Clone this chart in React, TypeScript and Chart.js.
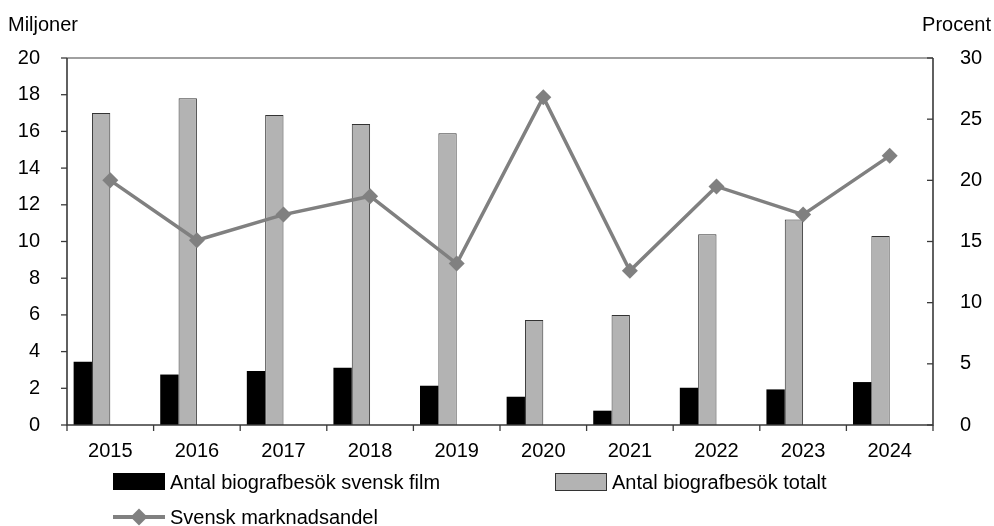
import React, { useEffect, useRef } from "react";
import { Chart, registerables } from "chart.js";

Chart.register(...registerables);

const years = ["2015", "2016", "2017", "2018", "2019", "2020", "2021", "2022", "2023", "2024"];
const svenskFilm = [3.45, 2.75, 2.94, 3.12, 2.14, 1.54, 0.78, 2.03, 1.94, 2.34];
const totalt = [17.0, 17.8, 16.9, 16.4, 15.9, 5.72, 6.0, 10.4, 11.2, 10.3];
const marknadsandel = [20.0, 15.1, 17.2, 18.7, 13.2, 26.8, 12.6, 19.5, 17.2, 22.0];
const emptySlot = years.map(() => null);

const FONT = "'Liberation Sans', Arial, sans-serif";
const W = 994;
const H = 526;
const PLOT_LEFT = 67;
const PLOT_RIGHT = 933;
const PLOT_TOP = 58;
const PLOT_BOTTOM = 425;

const framePlugin = {
  id: "frame",
  afterDraw(chart: any) {
    const { ctx, chartArea } = chart;
    const { left, right, top, bottom } = chartArea;
    const yL = chart.scales.y;
    const yR = chart.scales.y1;
    ctx.save();
    ctx.strokeStyle = "#808080";
    ctx.lineWidth = 1.5;
    ctx.beginPath();
    ctx.moveTo(left, top);
    ctx.lineTo(right, top);
    ctx.stroke();
    ctx.strokeStyle = "#3a3a3a";
    ctx.lineWidth = 1.6;
    ctx.beginPath();
    ctx.moveTo(left, top);
    ctx.lineTo(left, bottom);
    ctx.lineTo(right, bottom);
    ctx.lineTo(right, top);
    ctx.stroke();
    ctx.lineWidth = 1.3;
    yL.ticks.forEach((t: any) => {
      const py = yL.getPixelForValue(t.value);
      ctx.beginPath();
      ctx.moveTo(left - 6, py);
      ctx.lineTo(left, py);
      ctx.stroke();
    });
    yR.ticks.forEach((t: any) => {
      const py = yR.getPixelForValue(t.value);
      ctx.beginPath();
      ctx.moveTo(right - 6, py);
      ctx.lineTo(right, py);
      ctx.stroke();
    });
    const n = years.length;
    const step = (right - left) / n;
    for (let i = 0; i <= n; i++) {
      const px = left + i * step;
      ctx.beginPath();
      ctx.moveTo(px, bottom);
      ctx.lineTo(px, bottom + 6);
      ctx.stroke();
    }
    ctx.restore();
  },
};

export default function App() {
  const ref = useRef<HTMLCanvasElement | null>(null);

  useEffect(() => {
    document.body.style.margin = "0";
    const canvas = ref.current;
    if (!canvas) return;
    const chart = new Chart(canvas, {
      type: "bar",
      data: {
        labels: years,
        datasets: [
          {
            type: "line",
            label: "Svensk marknadsandel",
            data: marknadsandel,
            yAxisID: "y1",
            borderColor: "#808080",
            backgroundColor: "#808080",
            borderWidth: 3.5,
            pointStyle: "rectRot",
            pointRadius: 8,
            pointBorderWidth: 0,
            pointBackgroundColor: "#808080",
            tension: 0,
            order: 0,
          } as any,
          {
            label: "Antal biografbesök svensk film",
            data: svenskFilm,
            yAxisID: "y",
            backgroundColor: "#000000",
            borderWidth: 0,
            order: 1,
          },
          {
            label: "Antal biografbesök totalt",
            data: totalt,
            yAxisID: "y",
            backgroundColor: "#b3b3b3",
            borderColor: "#333333",
            borderWidth: 1,
            borderSkipped: "bottom",
            order: 1,
          },
          { label: "_a", data: emptySlot as any, yAxisID: "y", backgroundColor: "transparent", order: 1 },
          { label: "_b", data: emptySlot as any, yAxisID: "y", backgroundColor: "transparent", order: 1 },
        ],
      },
      options: {
        responsive: false,
        animation: false,
        maintainAspectRatio: false,
        layout: { padding: { top: PLOT_TOP, left: 0, right: 0, bottom: 0 } },
        datasets: {
          bar: { categoryPercentage: 0.847, barPercentage: 1.0 },
        },
        plugins: {
          legend: { display: false },
          tooltip: { enabled: false },
        },
        scales: {
          x: {
            type: "category",
            offset: true,
            grid: { display: false },
            border: { display: false },
            ticks: { color: "#000", font: { family: FONT, size: 20 }, padding: 6, maxRotation: 0 },
            afterFit: (s: any) => {
              s.height = H - PLOT_BOTTOM;
            },
          },
          y: {
            position: "left",
            min: 0,
            max: 20,
            grid: { display: false },
            border: { display: false },
            ticks: { stepSize: 2, color: "#000", font: { family: FONT, size: 20 }, padding: 19 },
            afterFit: (s: any) => {
              s.width = PLOT_LEFT;
            },
          },
          y1: {
            position: "right",
            min: 0,
            max: 30,
            grid: { display: false },
            border: { display: false },
            ticks: { stepSize: 5, color: "#000", font: { family: FONT, size: 20 }, padding: 19 },
            afterFit: (s: any) => {
              s.width = W - PLOT_RIGHT;
            },
          },
        },
      },
      plugins: [framePlugin],
    });
    return () => chart.destroy();
  }, []);

  const textStyle: React.CSSProperties = {
    position: "absolute",
    fontFamily: FONT,
    fontSize: 20,
    color: "#000",
    whiteSpace: "nowrap",
    lineHeight: "20px",
  };

  return (
    <div style={{ position: "absolute", left: 0, top: 0, width: W, height: H, background: "#fff" }}>
      <canvas ref={ref} width={W} height={H} style={{ position: "absolute", left: 0, top: 0 }} />
      <div style={{ ...textStyle, left: 8, top: 14 }}>Miljoner</div>
      <div style={{ ...textStyle, right: 3, top: 14 }}>Procent</div>
      <div style={{ position: "absolute", left: 113, top: 473, width: 52, height: 17, background: "#000" }} />
      <div style={{ ...textStyle, left: 170, top: 472 }}>Antal biografbesök svensk film</div>
      <div
        style={{
          position: "absolute",
          left: 555,
          top: 473,
          width: 50,
          height: 16,
          background: "#b3b3b3",
          border: "1px solid #333",
        }}
      />
      <div style={{ ...textStyle, left: 612, top: 472 }}>Antal biografbesök totalt</div>
      <div style={{ position: "absolute", left: 113, top: 515, width: 52, height: 4, background: "#808080" }} />
      <div
        style={{
          position: "absolute",
          left: 133,
          top: 511,
          width: 12,
          height: 12,
          background: "#808080",
          transform: "rotate(45deg)",
        }}
      />
      <div style={{ ...textStyle, left: 170, top: 507 }}>Svensk marknadsandel</div>
    </div>
  );
}
